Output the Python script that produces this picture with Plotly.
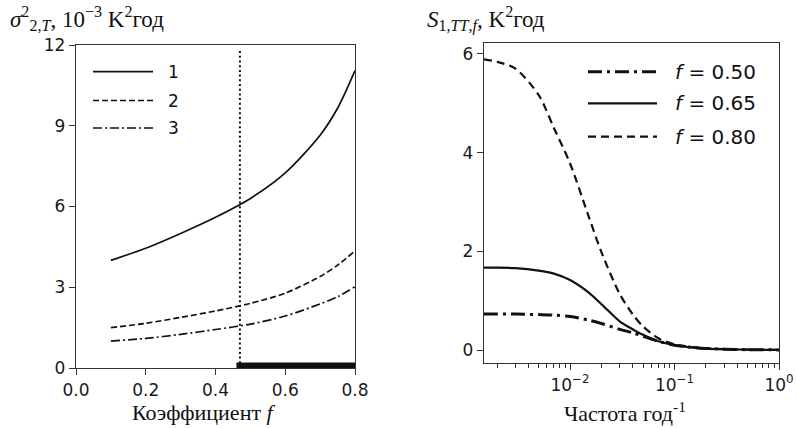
import plotly.graph_objects as go
import math

# ---------------- data: left panel ----------------
coef_f = [0.1, 0.2, 0.3, 0.4, 0.5, 0.6, 0.7, 0.75, 0.8]
sigma_1 = [4.0, 4.45, 5.0, 5.6, 6.3, 7.25, 8.65, 9.65, 11.05]
sigma_2 = [1.5, 1.66, 1.88, 2.12, 2.4, 2.78, 3.4, 3.82, 4.35]
sigma_3 = [1.0, 1.1, 1.25, 1.43, 1.63, 1.93, 2.38, 2.65, 3.02]
f_critical = 0.47
band_start, band_end, band_height = 0.46, 0.8, 0.2
left_names = ["1", "2", "3"]
left_xticks = [0.0, 0.2, 0.4, 0.6, 0.8]
left_yticks = [0, 3, 6, 9, 12]

# ---------------- data: right panel ----------------
freq = [0.0015, 0.002, 0.003, 0.005, 0.007, 0.01, 0.015, 0.02, 0.03, 0.04,
        0.05, 0.07, 0.1, 0.15, 0.2, 0.3, 0.5, 0.7, 1.0]
spec_050 = [0.73, 0.73, 0.73, 0.72, 0.71, 0.68, 0.61, 0.54, 0.42, 0.35,
            0.28, 0.18, 0.10, 0.055, 0.035, 0.02, 0.01, 0.007, 0.005]
spec_065 = [1.67, 1.67, 1.66, 1.61, 1.55, 1.42, 1.17, 0.93, 0.58, 0.42,
            0.31, 0.18, 0.10, 0.05, 0.03, 0.018, 0.01, 0.007, 0.005]
spec_080 = [5.89, 5.84, 5.70, 5.17, 4.50, 3.78, 2.72, 1.98, 1.13, 0.72,
            0.48, 0.24, 0.12, 0.06, 0.035, 0.02, 0.01, 0.007, 0.005]
right_names = ["<i>f</i> = 0.50", "<i>f</i> = 0.65", "<i>f</i> = 0.80"]
right_xticks = [0.01, 0.1, 1.0]
right_xticktext = ["10<sup>\u22122</sup>", "10<sup>\u22121</sup>", "10<sup>0</sup>"]
right_minor = [k * 10.0 ** e for e in (-3, -2, -1) for k in range(2, 10)]
right_minor = [v for v in right_minor if v > 0.0015]
right_yticks = [0, 2, 4, 6]

W, H = 797, 428
def px(x): return x / W
def py(y): return 1 - y / H

INK = "#111111"
SPINE = "#333333"

left_styles = [dict(color=INK, width=1.7, dash="solid"),
               dict(color=INK, width=1.7, dash="6px,3px"),
               dict(color=INK, width=1.7, dash="9px,3px,2px,3px")]
right_styles = [dict(color=INK, width=3.0, dash="14px,5px,3px,5px"),
                dict(color=INK, width=2.2, dash="solid"),
                dict(color=INK, width=2.2, dash="8px,5px")]

fig = go.Figure()
for ys, name, st in zip([sigma_1, sigma_2, sigma_3], left_names, left_styles):
    fig.add_trace(go.Scatter(x=coef_f, y=ys, mode="lines", name=name,
                             line=dict(shape="spline", smoothing=0.8, **st),
                             xaxis="x", yaxis="y", showlegend=False))
for ys, name, st in zip([spec_050, spec_065, spec_080], right_names, right_styles):
    fig.add_trace(go.Scatter(x=freq, y=ys, mode="lines", name=name,
                             line=dict(shape="spline", smoothing=0.8, **st),
                             xaxis="x2", yaxis="y2", showlegend=False))

axis_common = dict(showline=True, mirror=True, linecolor=SPINE, linewidth=1.3,
                   ticks="outside", ticklen=6, tickwidth=1.2, tickcolor=SPINE,
                   showgrid=False, zeroline=False, automargin=False,
                   tickfont=dict(family="DejaVu Sans", size=17, color="#1a1a1a"))

fig.update_layout(
    width=W, height=H,
    margin=dict(l=0, r=0, t=0, b=0, pad=0, autoexpand=False),
    paper_bgcolor="white", plot_bgcolor="white",
    xaxis=dict(domain=[px(76), px(355)], range=[0, 0.8], tickvals=left_xticks,
               tickformat=".1f", anchor="y", **axis_common),
    yaxis=dict(domain=[py(368), py(45)], range=[0, 12], tickvals=left_yticks,
               anchor="x", **axis_common),
    xaxis2=dict(domain=[px(484), px(779)], type="log",
                range=[math.log10(freq[0]), 0], tickvals=right_xticks,
                ticktext=right_xticktext, anchor="y2",
                minor=dict(tickmode="array", tickvals=right_minor, ticks="outside",
                           ticklen=3.5, tickwidth=1, tickcolor=SPINE, showgrid=False),
                **axis_common),
    yaxis2=dict(domain=[py(363), py(43)], range=[-0.26, 6.22], tickvals=right_yticks,
                anchor="x2", **axis_common),
)

# critical coefficient marker and band
fig.add_shape(type="line", xref="x", yref="y", x0=f_critical, x1=f_critical,
              y0=0, y1=11.8, line=dict(color=INK, width=2, dash="2px,2.7px"))
fig.add_shape(type="rect", xref="x", yref="y", x0=band_start, x1=band_end,
              y0=0, y1=band_height, fillcolor=INK, line=dict(width=0))

# custom legends (long line samples, as in the reference)
left_leg_y = [71.7, 100.5, 128.0]
for yy, name, st in zip(left_leg_y, left_names, left_styles):
    fig.add_shape(type="line", xref="paper", yref="paper", x0=px(93), x1=px(153),
                  y0=py(yy), y1=py(yy), line=st)
    fig.add_annotation(x=px(166), y=py(yy), xref="paper", yref="paper", text=name,
                       showarrow=False, xanchor="left", yanchor="middle",
                       font=dict(family="DejaVu Sans", size=17, color=INK))
right_leg_y = [71.7, 103.3, 136.7]
for yy, name, st in zip(right_leg_y, right_names, right_styles):
    fig.add_shape(type="line", xref="paper", yref="paper", x0=px(588), x1=px(657),
                  y0=py(yy), y1=py(yy), line=st)
    fig.add_annotation(x=px(673), y=py(yy), xref="paper", yref="paper", text=name,
                       showarrow=False, xanchor="left", yanchor="middle",
                       font=dict(family="DejaVu Sans", size=20, color=INK))

# axis titles
serif = "Liberation Serif"
fig.add_annotation(x=px(8), y=py(19), xref="paper", yref="paper", showarrow=False,
                   xanchor="left", yanchor="middle",
                   text="<i>σ</i><sup>2</sup><sub>2,<i>T</i></sub>, 10<sup>\u22123</sup> K<sup>2</sup>год",
                   font=dict(family=serif, size=23, color=INK))
fig.add_annotation(x=px(425), y=py(19), xref="paper", yref="paper", showarrow=False,
                   xanchor="left", yanchor="middle",
                   text="<i>S</i><sub>1,<i>TT</i>,<i>f</i></sub>, K<sup>2</sup>год",
                   font=dict(family=serif, size=23, color=INK))
fig.add_annotation(x=px(204), y=py(412), xref="paper", yref="paper", showarrow=False,
                   xanchor="center", yanchor="middle",
                   text="Коэффициент <i>f</i>",
                   font=dict(family=serif, size=22, color=INK))
fig.add_annotation(x=px(625), y=py(412), xref="paper", yref="paper", showarrow=False,
                   xanchor="center", yanchor="middle",
                   text="Частота год<sup>-1</sup>",
                   font=dict(family=serif, size=22, color=INK))

fig.write_html("out.html", config={"displayModeBar": False},
               post_script="document.body.style.margin='0';document.body.style.overflow='hidden';")
